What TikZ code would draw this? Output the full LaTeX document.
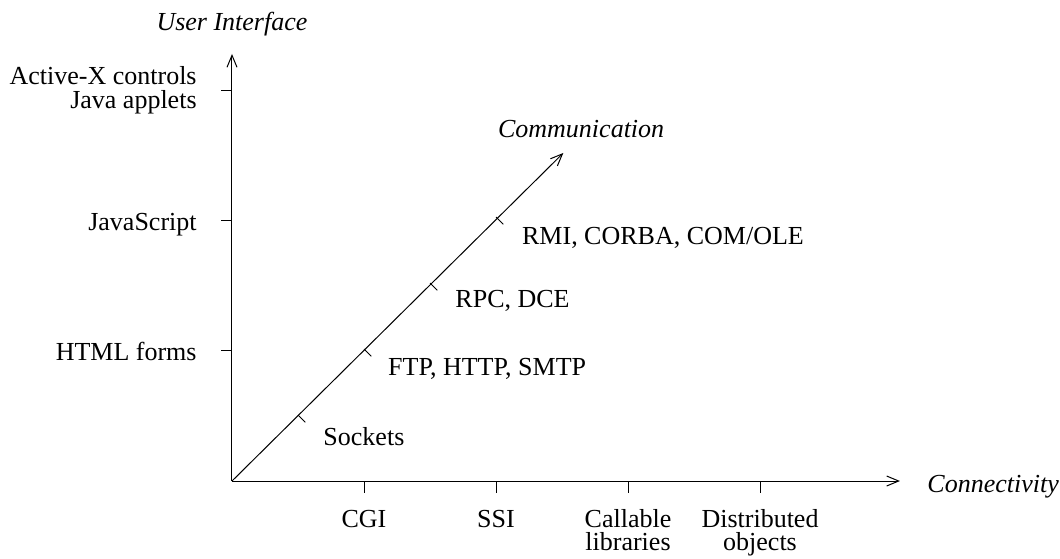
\documentclass[tikz,border=0pt]{standalone}
\usepackage{fontspec}
\setmainfont{Liberation Serif}
\usetikzlibrary{arrows.meta,positioning}

\begin{document}
\begin{tikzpicture}[x=33pt,y=33pt,font=\fontsize{13}{12}\selectfont,
    axis/.style={line width=0.5pt, -{Straight Barb[length=6pt,width=5pt]}},
    tickmark/.style={line width=0.5pt},
    axisname/.style={font=\fontsize{13}{12}\selectfont\itshape, inner sep=0pt},
    item/.style={inner sep=0pt},
    xitem/.style={inner sep=0pt, anchor=north, align=center, font=\fontsize{13}{11.5}\selectfont}]
    \useasboundingbox (-3.515,-1.167) rectangle (12.545,7.288);

    % Axes
    \coordinate (O) at (0,0);
    \coordinate (xend) at (10.12,0);
    \coordinate (yend) at (0,6.47);
    \coordinate (dend) at (5.02,4.97);
    \draw[axis] (O) -- (xend);
    \draw[axis] (O) -- (yend);
    \draw[axis] (O) -- (dend);

    % Axis names
    \node[axisname, anchor=base west] (conn) at (10.53,-0.17) {Connectivity};
    \node[axisname, anchor=base] (ui) at (0,6.82) {User Interface};
    \node[axisname, anchor=base] (comm) at (5.29,5.2) {Communication};

    % Connectivity ticks
    \foreach \x in {2,4,6,8}
        \draw[tickmark] (\x,0) -- (\x,-0.18);
    \node[xitem] (cgi) at (2,-0.43) {CGI};
    \node[xitem] (ssi) at (4,-0.43) {SSI};
    \node[xitem] (lib) at (6,-0.43) {Callable\\libraries};
    \node[xitem] (dist) at (8,-0.43) {Distributed\\objects};

    % User interface ticks
    \foreach \y in {1.97,3.94,5.92}
        \draw[tickmark] (0,\y) -- (-0.17,\y);
    \node[item, anchor=base east] (html) at (-0.53,1.83) {HTML forms};
    \node[item, anchor=base east] (js) at (-0.53,3.80) {JavaScript};
    \node[item, anchor=east, align=right] (applets) at (-0.53,5.92) {Active-X controls\\Java applets};

    % Communication ticks
    \foreach \i in {1,2,3,4}
        \draw[tickmark] (\i,\i) -- ++(0.11,-0.11);
    \node[item, anchor=west] (sock) at (1.38,0.68) {Sockets};
    \node[item, anchor=west] (ftp) at (2.36,1.70) {FTP, HTTP, SMTP};
    \node[item, anchor=west] (rpc) at (3.38,2.73) {RPC, DCE};
    \node[item, anchor=west] (rmi) at (4.39,3.68) {RMI, CORBA, COM/OLE};
\end{tikzpicture}
\end{document}
